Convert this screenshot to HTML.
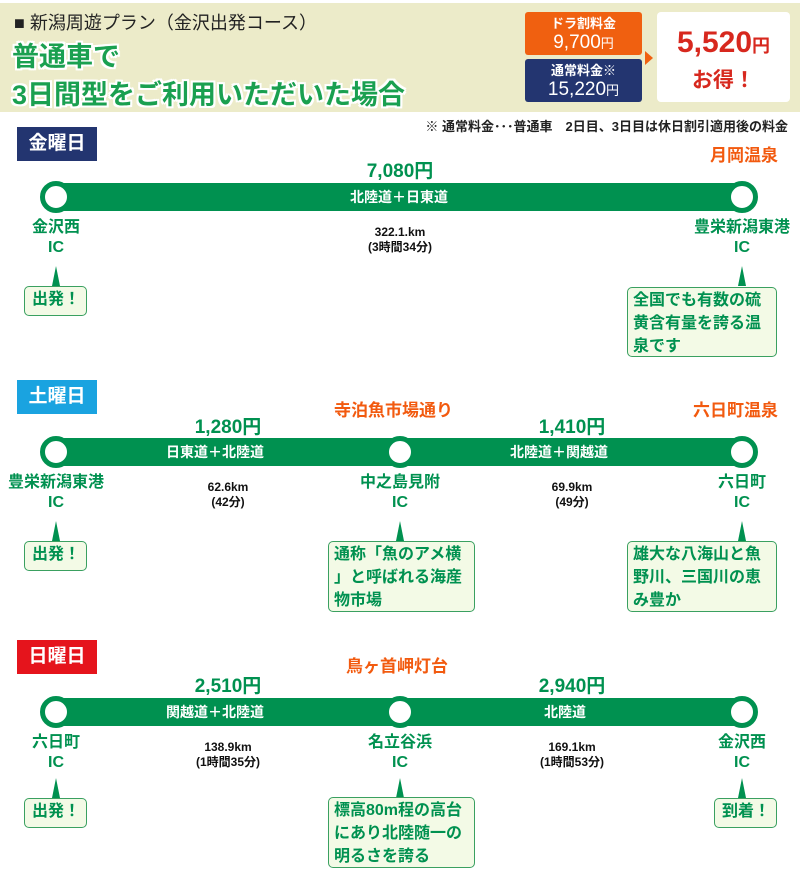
<!DOCTYPE html>
<html><head><meta charset="utf-8"><style>
body{margin:0;width:800px;height:871px;background:#fff;position:relative;overflow:hidden;font-family:"Liberation Sans","Noto Sans CJK JP",sans-serif}
.a{position:absolute}
.g{color:#009150;font-weight:bold}
.bar{position:absolute;height:28px;background:#009150;color:#fff;font-size:14px;font-weight:bold;line-height:28px;text-align:center}
.c{position:absolute;width:22px;height:22px;border:5px solid #009150;border-radius:50%;background:#fff}
.st{position:absolute;width:140px;text-align:center;color:#009150;font-weight:bold;font-size:16px;line-height:20px}
.km{position:absolute;width:120px;text-align:center;font-size:12px;font-weight:bold;line-height:15px;color:#111}
.pr{position:absolute;width:120px;text-align:center;color:#009150;font-weight:bold;font-size:19px}
.or{position:absolute;color:#f25a0f;font-weight:bold;font-size:17px}
.tri{position:absolute;width:0;height:0;border-left:4px solid transparent;border-right:4px solid transparent;border-bottom:20px solid #009150}
.co{position:absolute;background:#f3fae6;border:1.5px solid #3aa060;border-radius:5px;color:#009150;font-weight:bold;font-size:16px;line-height:23px;padding:1px 5px;box-sizing:border-box}
.sm{white-space:nowrap;padding:1px 7px}
.day{position:absolute;left:17px;width:80px;height:34px;color:#fff;font-weight:bold;font-size:19px;line-height:34px;text-align:center}
</style></head><body>
<div class="a" style="left:0;top:3px;width:800px;height:109px;background:#ecebc9"></div>
<div class="a" style="left:14px;top:9px;font-size:18px;color:#222">■ 新潟周遊プラン（金沢出発コース）</div>
<div class="a g" style="left:12px;top:35px;font-size:27px;color:#1aa050;text-shadow:2px 0 #fff,-2px 0 #fff,0 2px #fff,0 -2px #fff,2px 2px #fff,-2px -2px #fff,2px -2px #fff,-2px 2px #fff">普通車で</div>
<div class="a g" style="left:12px;top:73px;font-size:27px;color:#1aa050;text-shadow:2px 0 #fff,-2px 0 #fff,0 2px #fff,0 -2px #fff,2px 2px #fff,-2px -2px #fff,2px -2px #fff,-2px 2px #fff">3日間型をご利用いただいた場合</div>
<div class="a" style="left:525px;top:12px;width:117px;height:43px;background:#f06010;border-radius:3px;color:#fff;text-align:center;font-size:13px;line-height:17px;padding-top:3px;box-sizing:border-box;font-weight:bold">ドラ割料金<br><span style="font-size:19px;line-height:22px;font-weight:normal">9,700<small style="font-size:13px">円</small></span></div>
<div class="a" style="left:525px;top:59px;width:117px;height:43px;background:#233570;border-radius:3px;color:#fff;text-align:center;font-size:13px;line-height:17px;padding-top:3px;box-sizing:border-box;font-weight:bold">通常料金※<br><span style="font-size:19px;line-height:22px;font-weight:normal">15,220<small style="font-size:13px">円</small></span></div>
<div class="a" style="left:645px;top:51px;width:0;height:0;border-top:7px solid transparent;border-bottom:7px solid transparent;border-left:8px solid #f06010"></div>
<div class="a" style="left:657px;top:12px;width:133px;height:90px;background:#fff;border-radius:4px;color:#d7281e;font-weight:bold;text-align:center"><div style="font-size:30px;margin-top:14px">5,520<span style="font-size:18px">円</span></div><div style="font-size:21px;margin-top:4px">お得！</div></div>
<div class="a" style="right:12px;top:116px;font-size:13px;font-weight:bold;color:#222">※ 通常料金･･･普通車　2日目、3日目は休日割引適用後の料金</div>

<!-- Friday -->
<div class="day" style="top:127px;background:#233570">金曜日</div>
<div class="or" style="right:22px;top:141px">月岡温泉</div>
<div class="pr" style="left:340px;top:156px">7,080円</div>
<div class="bar" style="left:56px;top:183px;width:686px">北陸道＋日東道</div>
<div class="c" style="left:40px;top:181px"></div><div class="c" style="left:726px;top:181px"></div>
<div class="st" style="left:-14px;top:218px">金沢西<br>IC</div>
<div class="st" style="left:672px;top:218px">豊栄新潟東港<br>IC</div>
<div class="km" style="left:340px;top:225px">322.1.km<br>(3時間34分)</div>
<div class="tri" style="left:52px;top:266px"></div><div class="tri" style="left:738px;top:266px"></div>
<div class="co sm" style="left:24px;top:286px;width:63px;height:30px">出発！</div>
<div class="co" style="left:627px;top:287px;width:150px;height:70px">全国でも有数の硫黄含有量を誇る温泉です</div>

<!-- Saturday -->
<div class="day" style="top:380px;background:#1aa3e0">土曜日</div>
<div class="or" style="left:334px;top:396px">寺泊魚市場通り</div>
<div class="or" style="right:22px;top:396px">六日町温泉</div>
<div class="pr" style="left:168px;top:412px">1,280円</div>
<div class="pr" style="left:512px;top:412px">1,410円</div>
<div class="bar" style="left:56px;top:438px;width:686px"><span class="a" style="left:110px">日東道＋北陸道</span><span class="a" style="left:454px">北陸道＋関越道</span></div>
<div class="c" style="left:40px;top:436px"></div><div class="c" style="left:384px;top:436px"></div><div class="c" style="left:726px;top:436px"></div>
<div class="st" style="left:-14px;top:473px">豊栄新潟東港<br>IC</div>
<div class="st" style="left:330px;top:473px">中之島見附<br>IC</div>
<div class="st" style="left:672px;top:473px">六日町<br>IC</div>
<div class="km" style="left:168px;top:480px">62.6km<br>(42分)</div>
<div class="km" style="left:512px;top:480px">69.9km<br>(49分)</div>
<div class="tri" style="left:52px;top:521px"></div><div class="tri" style="left:396px;top:521px"></div><div class="tri" style="left:738px;top:521px"></div>
<div class="co sm" style="left:24px;top:541px;width:63px;height:30px">出発！</div>
<div class="co" style="left:328px;top:541px;width:147px;height:71px">通称「魚のアメ横<br>」と呼ばれる海産<br>物市場</div>
<div class="co" style="left:627px;top:541px;width:150px;height:71px">雄大な八海山と魚<br>野川、三国川の恵<br>み豊か</div>

<!-- Sunday -->
<div class="day" style="top:640px;background:#e5141c">日曜日</div>
<div class="or" style="left:346px;top:652px">鳥ヶ首岬灯台</div>
<div class="pr" style="left:168px;top:671px">2,510円</div>
<div class="pr" style="left:512px;top:671px">2,940円</div>
<div class="bar" style="left:56px;top:698px;width:686px"><span class="a" style="left:110px">関越道＋北陸道</span><span class="a" style="left:488px">北陸道</span></div>
<div class="c" style="left:40px;top:696px"></div><div class="c" style="left:384px;top:696px"></div><div class="c" style="left:726px;top:696px"></div>
<div class="st" style="left:-14px;top:733px">六日町<br>IC</div>
<div class="st" style="left:330px;top:733px">名立谷浜<br>IC</div>
<div class="st" style="left:672px;top:733px">金沢西<br>IC</div>
<div class="km" style="left:168px;top:740px">138.9km<br>(1時間35分)</div>
<div class="km" style="left:512px;top:740px">169.1km<br>(1時間53分)</div>
<div class="tri" style="left:52px;top:778px"></div><div class="tri" style="left:396px;top:778px"></div><div class="tri" style="left:738px;top:778px"></div>
<div class="co sm" style="left:24px;top:798px;width:63px;height:30px">出発！</div>
<div class="co" style="left:328px;top:797px;width:147px;height:71px;white-space:nowrap">標高80m程の高台<br>にあり北陸随一の<br>明るさを誇る</div>
<div class="co sm" style="left:714px;top:798px;width:63px;height:30px">到着！</div>
</body></html>
